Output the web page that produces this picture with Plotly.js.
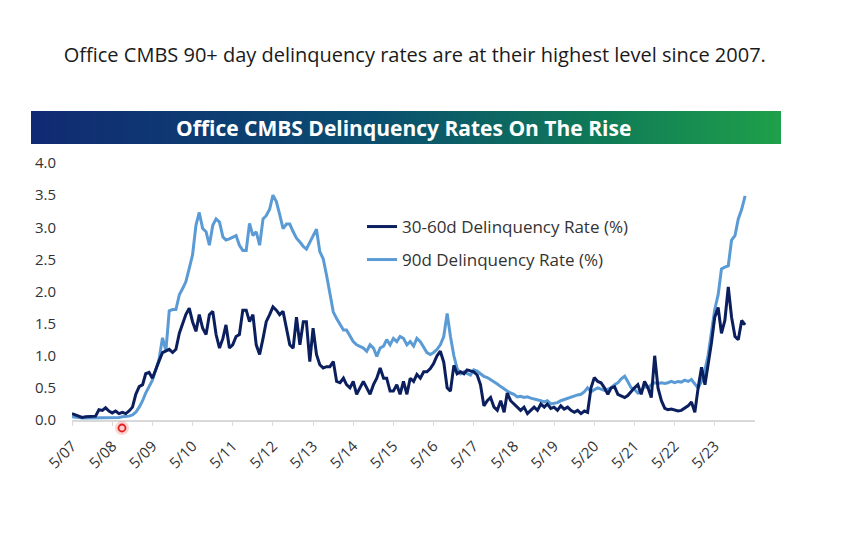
<!DOCTYPE html>
<html><head><meta charset="utf-8">
<script src="https://cdn.plot.ly/plotly-3.0.1.min.js"></script>
<style>html,body{margin:0;padding:0;background:#fff;}#chart{width:850px;height:540px;}</style>
</head><body><div id="chart"></div>
<script>
// Monthly observations starting May 2007
const startYear = 2007, startMonth = 5;
const rate3060 = [
 0.1,0.08,0.05,0.04,0.05,0.05,0.05,0.06,0.16,0.15,
 0.19,0.14,0.11,0.14,0.1,0.12,0.1,0.14,0.2,0.4,
 0.52,0.55,0.72,0.74,0.65,0.8,0.92,1.05,1.08,1.1,
 1.05,1.1,1.35,1.5,
 1.64,1.74,1.53,1.38,1.64,1.43,1.33,1.64,1.69,1.33,1.12,1.27,1.48,1.12,1.17,1.3,1.33,1.71,1.71,1.53,1.64,1.17,1.02,1.27,1.53,1.64,1.76,1.71,1.64,1.69,1.43,1.17,1.12,1.6,1.17,1.53,
 1.53,0.91,1.43,1.02,0.86,0.81,0.83,0.83,0.91,0.6,0.58,0.65,0.55,0.5,0.6,0.4,0.5,0.6,0.5,0.4,0.55,0.65,0.81,0.65,0.65,0.45,0.45,0.55,0.4,0.6,0.4,0.65,0.6,0.71,0.65,0.75,
 0.75,0.8,0.88,1.0,1.07,0.9,0.5,0.45,0.85,0.72,0.75,0.72,0.78,0.76,0.75,0.7,0.55,0.22,0.3,0.35,0.2,0.15,0.3,0.12,0.42,0.3,0.25,0.2,0.15,0.2,0.1,0.15,0.2,0.15,0.25,0.2,0.25,
 0.18,0.2,0.15,0.22,0.17,0.2,0.15,0.12,0.15,0.1,0.14,0.12,0.5,0.66,0.6,0.58,0.5,0.4,0.5,0.52,0.4,0.38,0.35,0.38,0.45,0.5,0.55,0.4,0.6,0.5,0.35,1.0,0.5,0.3,0.18,0.16,
 0.17,0.15,0.14,0.15,0.18,0.22,0.28,
 0.12,0.5,0.82,0.55,0.85,1.2,1.6,1.75,1.35,1.55,2.07,1.6,1.3,1.25,1.55,1.48
];
const rate90 = [
 0.05,0.04,0.03,0.03,0.03,0.03,0.03,0.03,0.03,0.03,
 0.04,0.04,0.04,0.04,0.04,0.05,0.05,0.06,0.08,0.12,
 0.2,0.3,0.42,0.52,0.62,0.78,0.95,1.28,1.08,1.7,
 1.72,1.72,1.95,2.05,
 2.15,2.36,2.57,3.03,3.23,2.98,2.93,2.72,3.03,3.13,3.08,2.85,2.8,2.82,2.85,2.87,2.72,2.64,2.64,3.06,2.87,2.93,2.72,3.13,3.18,3.28,3.5,3.4,3.2,2.98,3.05,3.05,2.93,2.83,2.77,2.7,
 2.66,2.77,2.87,2.97,2.62,2.51,2.25,1.99,1.68,1.58,1.48,1.4,1.4,1.3,1.22,1.17,1.15,1.12,1.07,1.17,1.12,0.99,1.12,1.15,1.25,1.17,1.27,1.22,1.3,1.27,1.17,1.22,1.15,1.27,1.22,1.12,
 1.05,1.02,1.05,1.1,1.17,1.3,1.66,1.3,1.0,0.8,0.72,0.75,0.72,0.7,0.78,0.76,0.72,0.68,0.66,0.63,0.6,0.56,0.52,0.48,0.45,0.42,0.4,0.36,0.37,0.35,0.36,0.34,0.33,0.32,0.3,0.28,0.3,
 0.25,0.26,0.27,0.3,0.32,0.33,0.36,0.37,0.39,0.4,0.44,0.5,0.44,0.47,0.5,0.48,0.46,0.48,0.5,0.55,0.58,0.64,0.68,0.6,0.5,0.48,0.42,0.45,0.52,0.5,0.55,0.58,0.57,0.58,0.57,0.58,
 0.6,0.58,0.6,0.59,0.62,0.6,0.63,0.56,0.5,0.6,0.78,1.0,1.4,1.72,1.95,2.35,2.38,2.4,2.8,2.87,3.13,3.28,3.49
];
const tickYears = [2007,2008,2009,2010,2011,2012,2013,2014,2015,2016,2017,2018,2019,2020,2021,2022,2023];
const seriesNames = ['30-60d Delinquency Rate (%)', '90d Delinquency Rate (%)'];
const chartTitle = 'Office CMBS 90+ day delinquency rates are at their highest level since 2007.';
const bannerText = 'Office CMBS Delinquency Rates On The Rise';

function monthStr(i){
  const t = (startMonth - 1) + i;
  const y = startYear + Math.floor(t/12), m = (t % 12) + 1;
  return y + '-' + String(m).padStart(2,'0') + '-01';
}
const dates = rate3060.map((_, i) => monthStr(i));
const tickvals = tickYears.map(y => y + '-05-01');
const ticktext = tickYears.map(y => '5/' + String(y % 100).padStart(2,'0'));

const FONT = 'Open Sans, Noto Sans, sans-serif';
const traces = [
  {x: dates, y: rate90, type: 'scatter', mode: 'lines', name: seriesNames[1],
   line: {color: '#5b9bd5', width: 3}, legend: 'legend2'},
  {x: dates, y: rate3060, type: 'scatter', mode: 'lines', name: seriesNames[0],
   line: {color: '#0b1f5e', width: 3}, legend: 'legend'}
];

const grad = "<svg xmlns='http://www.w3.org/2000/svg' width='750' height='33' preserveAspectRatio='none'><defs><linearGradient id='g' x1='0' x2='1' y1='0' y2='0'><stop offset='0' stop-color='#112a73'/><stop offset='0.45' stop-color='#0a4d70'/><stop offset='0.75' stop-color='#0f7958'/><stop offset='1' stop-color='#1fa04a'/></linearGradient></defs><rect width='750' height='33' fill='url(#g)'/></svg>";

const L = 72, W = 683, B = 420, H = 257;
const px = v => (v - L) / W, py = v => (B - v) / H;

const layout = {
  width: 850, height: 540,
  margin: {l: L, r: 850 - L - W, t: B - H, b: 540 - B},
  paper_bgcolor: '#fff', plot_bgcolor: '#fff',
  title: {text: chartTitle, font: {family: FONT, size: 20, color: '#1a1a1a'},
          x: 0.488, xanchor: 'center', y: 1 - 55/540, yanchor: 'middle', yref: 'container'},
  xaxis: {type: 'date', range: [monthStr(0), monthStr(204)], tickvals: tickvals, ticktext: ticktext,
          tickangle: -45, tickfont: {family: FONT, size: 15, color: '#333'},
          showgrid: false, zeroline: false, showline: true, linecolor: '#d9d9d9', linewidth: 1.5,
          ticks: 'outside', ticklen: 4, tickcolor: '#d9d9d9', ticklabelstandoff: 6},
  yaxis: {range: [0, 4], dtick: 0.5, tick0: 0, tickformat: '.1f',
          tickfont: {family: FONT, size: 15, color: '#333'},
          showgrid: false, zeroline: false, showline: false, ticks: '', ticklabelstandoff: 15},
  showlegend: true,
  legend: {x: px(362), y: py(227), xanchor: 'left', yanchor: 'middle', bgcolor: 'rgba(0,0,0,0)',
           font: {family: FONT, size: 17, color: '#333'}},
  legend2: {x: px(362), y: py(260), xanchor: 'left', yanchor: 'middle', bgcolor: 'rgba(0,0,0,0)',
           font: {family: FONT, size: 17, color: '#333'}},
  images: [{source: 'data:image/svg+xml;utf8,' + encodeURIComponent(grad), xref: 'paper', yref: 'paper',
            x: px(31), y: py(111), sizex: 750 / W, sizey: 33 / H, xanchor: 'left', yanchor: 'top',
            sizing: 'stretch', layer: 'below'}],
  annotations: [{text: bannerText, xref: 'paper', yref: 'paper', x: px(403), y: py(128),
                 xanchor: 'center', yanchor: 'middle', showarrow: false,
                 font: {family: FONT, size: 21, color: '#fff', weight: 'bold'}}],
  shapes: [
    {type: 'circle', xref: 'paper', yref: 'paper', x0: px(115), x1: px(129), y0: py(435), y1: py(421),
     fillcolor: 'rgba(240,110,110,0.3)', line: {width: 0}},
    {type: 'circle', xref: 'paper', yref: 'paper', x0: px(118.5), x1: px(125.5), y0: py(431.5), y1: py(424.5),
     fillcolor: 'rgba(255,200,200,0.6)', line: {color: '#e02020', width: 1.8}}
  ]
};
Plotly.newPlot('chart', traces, layout, {displayModeBar: false, staticPlot: true});
</script></body></html>
